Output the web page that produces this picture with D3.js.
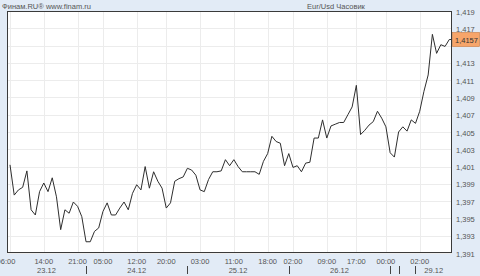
<!DOCTYPE html>
<html><head><meta charset="utf-8">
<script src="https://cdn.jsdelivr.net/npm/d3@7"></script>
<style>
html,body{margin:0;padding:0;background:#e2ebf6;}
svg{display:block;}
text{font-family:"Liberation Sans",Arial,sans-serif;}
</style></head>
<body>
<svg id="c" width="480" height="276"></svg>
<script>
const values = [
1.4012,1.3977,1.3983,1.3986,1.4005,1.3960,1.3954,1.3981,1.3991,1.3981,
1.3997,1.3975,1.3937,1.3960,1.3956,1.3969,1.3964,1.3952,1.3923,1.3923,
1.3935,1.3939,1.3958,1.3968,1.3954,1.3954,1.3962,1.3969,1.3960,1.3979,
1.3989,1.3983,1.4010,1.3985,1.4004,1.3993,1.3985,1.3962,1.3968,1.3993,
1.3996,1.3998,1.4008,1.4006,1.4000,1.3983,1.3981,1.3995,1.4004,1.4004,
1.4005,1.4018,1.4011,1.4018,1.4010,1.4004,1.4004,1.4004,1.4004,1.4001,
1.4016,1.4025,1.4045,1.4039,1.4037,1.4011,1.4025,1.4009,1.4011,1.4004,
1.4014,1.4015,1.4043,1.4043,1.4064,1.4043,1.4057,1.4059,1.4061,1.4061,
1.4070,1.4079,1.4104,1.4047,1.4052,1.4058,1.4062,1.4074,1.4066,1.4056,
1.4026,1.4021,1.4050,1.4056,1.4051,1.4064,1.4060,1.4074,1.4097,1.4116,
1.4163,1.4141,1.4151,1.4149,1.4157,1.4157
];
const xTickIdx = [0,8,16,22,30,37,45,53,61,67,75,82,89,97];
const xTickLabels = ["06:00","14:00","21:00","05:00","12:00","20:00","03:00","11:00","18:00","02:00","09:00","17:00","00:00","02:00"];
const yTicks = [1.391,1.393,1.395,1.397,1.399,1.401,1.403,1.405,1.407,1.409,1.411,1.413,1.415,1.417,1.419];
const dayLabels = ["23.12","24.12","25.12","26.12","27.12","28.12","29.12"];
const dayBreakIdx = [18,42,66,90,92,96];
const titleLeft = "Финам.RU® www.finam.ru";
const titleRight = "Eur/Usd Часовик";
const lastLabel = "1,4157";

const svg = d3.select("#c");
const L = 7, R = 452, T = 11, B = 253;
const x = d3.scaleLinear().domain([0, values.length - 1]).range([10, 453.5]);
const y = d3.scaleLinear().domain([1.391, 1.419]).range([B, T]);
const fmt = v => d3.format(".3f")(v).replace(".", ",");

svg.append("rect").attr("x", L).attr("y", T).attr("width", R - L).attr("height", B - T).attr("fill", "#ffffff");

// grid
svg.append("g").selectAll("line").data(yTicks).join("line")
  .attr("x1", L).attr("x2", R)
  .attr("y1", d => Math.round(y(d)) + 0.5).attr("y2", d => Math.round(y(d)) + 0.5)
  .attr("stroke", "#ececec").attr("stroke-width", 1);
svg.append("g").selectAll("line").data(xTickIdx).join("line")
  .attr("x1", d => Math.round(x(d)) + 0.5).attr("x2", d => Math.round(x(d)) + 0.5)
  .attr("y1", T).attr("y2", B)
  .attr("stroke", "#ececec").attr("stroke-width", 1);

// clip
svg.append("clipPath").attr("id", "clip").append("rect")
  .attr("x", L).attr("y", T).attr("width", R - L).attr("height", B - T);

const line = d3.line().x((d, i) => x(i)).y(d => y(d));
svg.append("path").datum(values).attr("d", line)
  .attr("clip-path", "url(#clip)")
  .attr("fill", "none").attr("stroke", "#2e2e2e").attr("stroke-width", 1);

// frame
svg.append("rect").attr("x", L + 0.5).attr("y", T + 0.5).attr("width", R - L - 1).attr("height", B - T - 1)
  .attr("fill", "none").attr("stroke", "#3a3a3a").attr("stroke-width", 1);

// y labels (skip the one hidden behind the last-value box)
const lastV = values[values.length - 1];
const ly = y(lastV);
svg.append("g").selectAll("text").data(yTicks.filter(d => Math.abs(y(d) - ly) > 8)).join("text")
  .attr("x", 456).attr("y", d => y(d) + 3.5)
  .attr("font-size", 7.5).attr("fill", "#555").text(d => fmt(d));

// last value box
svg.append("rect").attr("x", 452.5).attr("y", ly - 7).attr("width", 27).attr("height", 14)
  .attr("fill", "#f7a56a").attr("stroke", "#c97a40").attr("stroke-width", 0.6);
svg.append("text").attr("x", 455).attr("y", ly + 3).attr("font-size", 7.5).attr("fill", "#333").text(lastLabel);

// x labels
svg.append("g").selectAll("text").data(xTickIdx).join("text")
  .attr("x", (d, i) => x(d) - (i === 0 ? 4 : 0)).attr("y", 264)
  .attr("text-anchor", "middle").attr("font-size", 7.5).attr("fill", "#555")
  .text((d, i) => xTickLabels[i]);

// day separators & labels
const bounds = [L, ...dayBreakIdx.map(d => x(d)), R];
svg.append("g").selectAll("line").data(dayBreakIdx).join("line")
  .attr("x1", d => Math.round(x(d)) + 0.5).attr("x2", d => Math.round(x(d)) + 0.5)
  .attr("y1", 266).attr("y2", 274).attr("stroke", "#444").attr("stroke-width", 1);
svg.append("g").selectAll("text").data(dayLabels).join("text")
  .filter((d, i) => bounds[i + 1] - bounds[i] > 25)
  .attr("x", function(d) { const i = dayLabels.indexOf(d); return (bounds[i] + bounds[i + 1]) / 2; })
  .attr("y", 273).attr("text-anchor", "middle").attr("font-size", 7.5).attr("fill", "#555")
  .text(d => d);

// titles
svg.append("text").attr("x", 2).attr("y", 9).attr("font-size", 7.5).attr("fill", "#555").text(titleLeft);
svg.append("text").attr("x", 336).attr("y", 9).attr("text-anchor", "middle").attr("font-size", 7.5).attr("fill", "#555").text(titleRight);
</script>
</body></html>
